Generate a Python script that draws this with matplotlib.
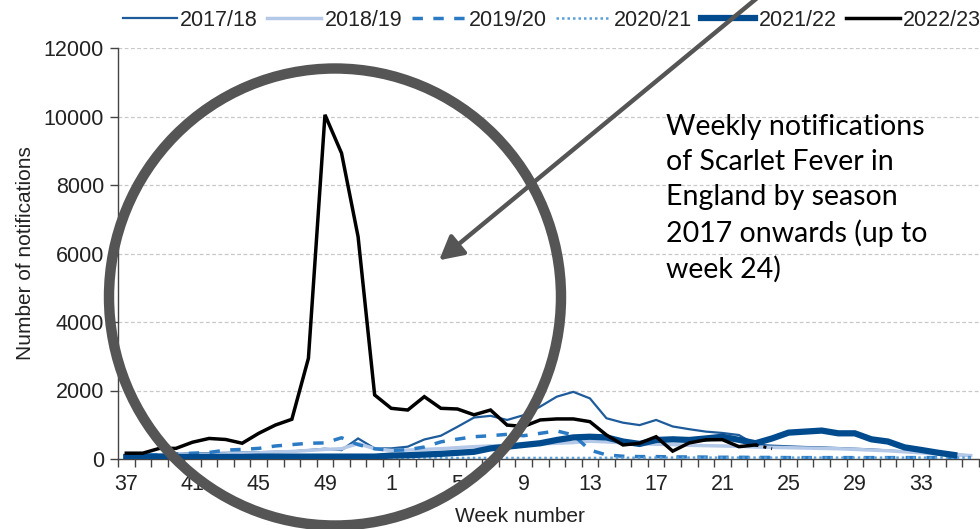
import numpy as np
import matplotlib
matplotlib.use("Agg")
import matplotlib.pyplot as plt
from matplotlib.patches import Ellipse, FancyArrowPatch

plt.rcParams["font.family"] = ["Liberation Sans", "DejaVu Sans"]

nan = np.nan
# weeks 37..52 then 1..36
weeks = list(range(37, 53)) + list(range(1, 37))
tick_weeks = [37, 41, 45, 49, 1, 5, 9, 13, 17, 21, 25, 29, 33]

s1718 = [120, 130, 140, 150, 160, 170, 180, 190, 200, 210, 220, 260, 300, 260, 600, 310,
         310, 360, 570, 680, 940, 1210, 1260, 1140, 1280, 1530, 1820, 1960, 1770, 1190,
         1060, 990, 1140, 950, 870, 800, 760, 700, 420, 390, 370, 350, 340, 320, 300, 280,
         250, 220, 190, 160, 130, 110]
s1819 = [90, 100, 110, 120, 130, 140, 150, 170, 180, 200, 220, 250, 280, 300, 450, 300,
         250, 260, 280, 300, 330, 360, 380, 400, 420, 440, 460, 480, 520, 500, 470, 450,
         430, 420, 400, 390, 380, 370, 350, 340, 330, 320, 310, 300, 280, 260, 240, 210,
         180, 150, 120, 100]
s1920 = [100, 110, 130, 150, 170, 190, 260, 280, 310, 380, 420, 460, 470, 620, 420, 300,
         250, 270, 350, 500, 580, 650, 680, 720, 680, 750, 820, 700, 260, 120, 80, 70,
         70, 60, 60, 55, 50, 50, 45, 45, 40, 40, 40, 40, 40, 40, 40, 40, 40, 40, 40, 40]
s2021 = [30, 30, 35, 35, 35, 40, 40, 40, 45, 45, 40, 40, 40, 35, 35, 30,
         30, 30, 30, 30, 30, 30, 30, 30, 30, 30, 30, 30, 30, 35, 35, 35,
         40, 40, 40, 40, 40, 40, 40, 40, 40, 40, 40, 40, 40, 40, 40, 40, 40, 40, 40, 40]
s2122 = [60, 60, 60, 60, 60, 60, 60, 60, 70, 70, 70, 70, 70, 70, 70, 70,
         100, 110, 130, 150, 180, 210, 310, 360, 410, 460, 555, 630, 650, 630, 510, 440,
         555, 575, 555, 600, 650, 560, 460, 600, 770, 800, 830, 750, 750, 575, 510, 340,
         265, 185, 117, nan]
s2223 = [170, 170, 310, 310, 490, 600, 570, 460, 750, 990, 1160, 2940, 10050, 8930, 6490, 1870,
         1480, 1430, 1820, 1480, 1460, 1290, 1430, 990, 950, 1140, 1170, 1170, 1090, 700,
         410, 460, 650, 230, 470, 560, 565, 360, 410]
s2223_wk24 = 300  # provisional last week, drawn dotted

series = [
    ("2017/18", s1718, dict(color="#1d5b9b", lw=1.6)),
    ("2018/19", s1819, dict(color="#b4c8e8", lw=2.5)),
    ("2019/20", s1920, dict(color="#2b7bc4", lw=2.5, ls=(0, (3, 3)))),
    ("2020/21", s2021, dict(color="#5a9fd8", lw=1.8, ls=(0, (1, 1.2)))),
    ("2021/22", s2122, dict(color="#004b8d", lw=4.5)),
    ("2022/23", s2223, dict(color="black", lw=2.5)),
]

fig = plt.figure(figsize=(9.8, 5.29), dpi=100)
ax = fig.add_axes([118 / 980, 70 / 529, 861 / 980, 411 / 529])

x = np.arange(len(weeks))
for name, vals, style in series:
    ax.plot(x[:len(vals)], vals, label=name, solid_joinstyle="miter", zorder=3, **style)
n = len(s2223)
ax.plot([n - 1, n], [s2223[-1], s2223_wk24], color="black", lw=2.2, ls=":", zorder=3)

ax.set_xlim(-0.5, len(weeks) - 0.5)
ax.set_ylim(0, 12000)
ax.set_yticks(range(0, 12001, 2000))
ax.set_xticks([weeks.index(w) for w in tick_weeks])
ax.set_xticklabels([str(w) for w in tick_weeks])
ax.set_xticks(np.arange(-0.5, len(weeks), 1), minor=True)
ax.tick_params(axis="x", which="major", length=0, pad=11, labelsize=15.5, colors="#222222")
ax.tick_params(axis="x", which="minor", length=6, width=1, color="#444444")
ax.tick_params(axis="y", length=6, width=1, color="#444444", labelsize=15.5,
               labelcolor="#222222", pad=4)
ax.grid(axis="y", color="#c8c8c8", lw=0.9, ls=(0, (3, 2)), zorder=0)
for s in ("top", "right"):
    ax.spines[s].set_visible(False)
for s in ("left", "bottom"):
    ax.spines[s].set_color("#444444")
    ax.spines[s].set_linewidth(1)
ax.set_ylabel("Number of notifications", fontsize=15, color="#222222", labelpad=6)
ax.set_xlabel("Week number", fontsize=15, color="#222222")
ax.xaxis.set_label_coords((520 - 118) / 861, -48 / 411)

fig.legend(loc="center", bbox_to_anchor=(552 / 980, 1 - 20 / 529), ncol=6, frameon=False,
           fontsize=15.5, handlelength=2.5, handletextpad=0.15, columnspacing=0.45,
           labelcolor="#222222")

# annotation overlay: circle, arrow, caption
circ = Ellipse((335 / 980, 1 - 297 / 529), 452 / 980, 457 / 529, transform=fig.transFigure,
               fill=False, ec="#555555", lw=7.5, zorder=10)
fig.add_artist(circ)
arr = FancyArrowPatch((762 / 980, 1 + 6 / 529), (437 / 980, 1 - 262 / 529),
                      transform=fig.transFigure, arrowstyle="-|>,head_length=0.65,head_width=0.35",
                      mutation_scale=22, color="#555555", lw=3.2, zorder=11)
fig.add_artist(arr)
fig.text(666 / 980, 1 - 114 / 529,
         "Weekly notifications\nof Scarlet Fever in\nEngland by season\n2017 onwards (up to\nweek 24)",
         fontsize=20.5, family=["Lato", "DejaVu Sans"], va="top", ha="left", linespacing=1.42,
         color="black")

fig.savefig("out.png", dpi=100)
